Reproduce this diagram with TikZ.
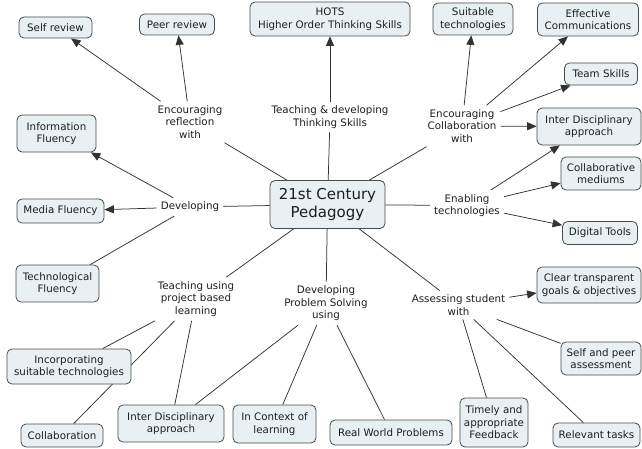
\documentclass[tikz,border=0pt]{standalone}
\usepackage{fontspec}
\setmainfont{DejaVu Sans}
\usetikzlibrary{arrows.meta,backgrounds}
\definecolor{boxfill}{HTML}{E8F0F4}
\definecolor{boxline}{HTML}{4A4A4A}
\definecolor{linkc}{HTML}{333333}
\definecolor{txt}{HTML}{1E1E1E}
\begin{document}
\begin{tikzpicture}[x=1pt,y=-1pt,
 concept/.style 2 args={draw=boxline, fill=boxfill, rounded corners=5pt, line width=0.8pt,
   minimum width=#1, minimum height=#2, inner sep=0pt, align=center, text=txt,
   font=\fontsize{10.3}{12.6}\selectfont},
 phrase/.style={align=center, inner sep=4pt, text=txt, font=\fontsize{10.3}{12.6}\selectfont},
 conn/.style={draw=linkc, line width=0.75pt},
 arr/.style={conn, -{Triangle[length=9.5pt,width=8pt]}},
]
\useasboundingbox (0,0) rectangle (642,449);
% central concept
\node[concept={115pt}{48pt}, font=\fontsize{15}{18.5}\selectfont] (c) at (327.5,204.5) {21st Century\\Pedagogy};
% concepts
\node[concept={73pt}{21pt}] (selfrev) at (55.5,27.5) {Self review};
\node[concept={75pt}{21pt}] (peerrev) at (177,24.5) {Peer review};
\node[concept={160pt}{34pt}] (hots) at (330,19) {HOTS\\Higher Order Thinking Skills};
\node[concept={80pt}{32pt}] (suit) at (473,19) {Suitable\\technologies};
\node[concept={101pt}{33pt}] (eff) at (588,19.5) {Effective\\Communications};
\node[concept={73pt}{22pt}] (team) at (601,74) {Team Skills};
\node[concept={104pt}{37pt}] (intertop) at (589,126.5) {Inter Disciplinary\\approach};
\node[concept={80pt}{33pt}] (collabmed) at (601,173.5) {Collaborative\\mediums};
\node[concept={75pt}{23pt}] (digital) at (600,233) {Digital Tools};
\node[concept={104pt}{36pt}] (clear) at (589,285) {Clear transparent\\goals \& objectives};
\node[concept={80pt}{33pt}] (selfpeer) at (601,358.5) {Self and peer\\assessment};
\node[concept={87pt}{24pt}] (relevant) at (596.5,435) {Relevant tasks};
\node[concept={68pt}{49pt}] (timely) at (494,422.5) {Timely and\\appropriate\\Feedback};
\node[concept={122pt}{25pt}] (realworld) at (391,432.5) {Real World Problems};
\node[concept={83pt}{38pt}] (context) at (274.5,424) {In Context of\\learning};
\node[concept={106pt}{37pt}] (interbot) at (171,423.5) {Inter Disciplinary\\approach};
\node[concept={82pt}{23pt}] (collaboration) at (62,435.5) {Collaboration};
\node[concept={124pt}{35pt}] (incorp) at (69,366.5) {Incorporating\\suitable technologies};
\node[concept={83pt}{37pt}] (tech) at (57.5,283.5) {Technological\\Fluency};
\node[concept={87pt}{24pt}] (media) at (60.5,211) {Media Fluency};
\node[concept={79pt}{37pt}] (info) at (56.5,133.5) {Information\\Fluency};
% linking phrases
\node[phrase] (refl) at (190,122) {Encouraging\\reflection\\with};
\node[phrase] (think) at (330,117) {Teaching \& developing\\Thinking Skills};
\node[phrase] (collab) at (462,126) {Encouraging\\Collaboration\\with};
\node[phrase] (dev) at (190,207) {Developing};
\node[phrase] (enab) at (467,205.5) {Enabling\\technologies};
\node[phrase] (proj) at (196,299) {Teaching using\\project based\\learning};
\node[phrase] (prob) at (326,303.5) {Developing\\Problem Solving\\using};
\node[phrase] (assess) at (458.5,305) {Assessing student\\with};
% connectors
\begin{scope}[on background layer]
\fill[white] (0,0) rectangle (642,449);
\draw[conn] (c) -- (refl);
\draw[arr] (refl) -- (selfrev);
\draw[arr] (refl) -- (peerrev);
\draw[conn] (c) -- (think);
\draw[arr] (think) -- (hots);
\draw[conn] (c) -- (collab);
\draw[arr] (collab) -- (suit);
\draw[arr] (collab) -- (eff);
\draw[arr] (collab) -- (team);
\draw[arr] (collab) -- (intertop);
\draw[conn] (c) -- (dev);
\draw[arr] (dev) -- (info);
\draw[arr] (dev) -- (media);
\draw[conn] (dev) -- (tech);
\draw[conn] (c) -- (enab);
\draw[arr] (enab) -- (intertop);
\draw[arr] (enab) -- (collabmed);
\draw[arr] (enab) -- (digital);
\draw[conn] (c) -- (proj);
\draw[conn] (proj) -- (incorp);
\draw[conn] (proj) -- (collaboration);
\draw[conn] (proj) -- (interbot);
\draw[conn] (c) -- (prob);
\draw[conn] (prob) -- (interbot);
\draw[conn] (prob) -- (context);
\draw[conn] (prob) -- (realworld);
\draw[conn] (c) -- (assess);
\draw[arr] (assess) -- (clear);
\draw[conn] (assess) -- (selfpeer);
\draw[conn] (assess) -- (timely);
\draw[conn] (assess) -- (relevant);
\end{scope}
\end{tikzpicture}
\end{document}
